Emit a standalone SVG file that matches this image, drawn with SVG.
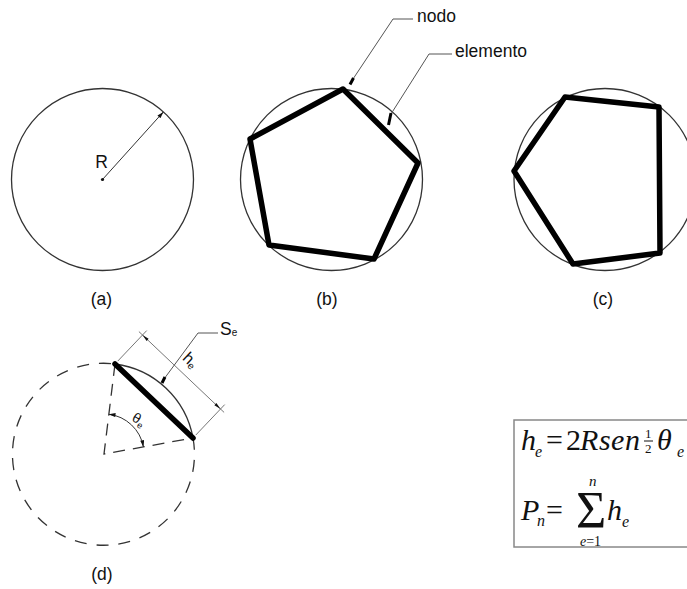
<svg xmlns="http://www.w3.org/2000/svg" width="687" height="589" viewBox="0 0 687 589">
<style>
.circ{fill:none;stroke:#333;stroke-width:1.3}
.poly{fill:none;stroke:#000;stroke-width:5.5;stroke-linejoin:round;stroke-linecap:round}
.lead{fill:none;stroke:#555;stroke-width:1}
.tick{fill:none;stroke:#000;stroke-width:3;stroke-linecap:butt}
.dash{fill:none;stroke:#333;stroke-width:1.3;stroke-dasharray:12 10}
.lbl{font-family:"Liberation Sans",Arial,sans-serif;font-size:17.5px;fill:#111}
.math{font-family:"Liberation Serif","Times New Roman",serif;fill:#111}
.it{font-style:italic}
</style>
<defs>
<marker id="arr" viewBox="0 0 10 6" refX="10" refY="3" markerWidth="8" markerHeight="4" markerUnits="userSpaceOnUse" orient="auto-start-reverse">
<path d="M0,0 L10,3 L0,6 Z" fill="#111"/>
</marker>
</defs>
<rect width="687" height="589" fill="#fff"/>

<g id="fig-a">
<circle class="circ" cx="102.5" cy="179.5" r="91"/>
<line x1="102.5" y1="179.5" x2="163.4" y2="111.9" stroke="#333" stroke-width="1" marker-end="url(#arr)"/>
<circle cx="102.5" cy="179.5" r="1.6" fill="#111"/>
<text class="lbl" x="101.5" y="168" text-anchor="middle">R</text>
<text class="lbl" x="101.5" y="305" text-anchor="middle">(a)</text>
</g>

<g id="fig-b">
<circle class="circ" cx="331.5" cy="179.5" r="91"/>
<polygon class="poly" points="343,89 418,163 374,259 269,245 250,139"/>
<text class="lbl" x="327" y="305" text-anchor="middle">(b)</text>
</g>

<g id="label-nodo">
<text class="lbl" x="417" y="22">nodo</text>
</g>
<g id="label-elemento">
<text class="lbl" x="455" y="57">elemento</text>
</g>

<g id="fig-c">
<circle class="circ" cx="605" cy="179.5" r="91"/>
<polygon class="poly" points="565,97 659,107 660,253 573,264 514,171"/>
<text class="lbl" x="603" y="305" text-anchor="middle">(c)</text>
</g>

<g id="fig-d">
<path class="dash" d="M193,438 A91,91 0 1 1 115,364"/>
<path class="dash" d="M115,364 L104,454 L193,438" style="stroke-dasharray:12 8"/>
<path class="circ" d="M115,364 A91,91 0 0 1 193,438"/>
<line class="poly" x1="115" y1="364" x2="193" y2="438"/>
<path d="M108.85,414.3 A40,40 0 0 1 143.4,446.9" fill="none" stroke="#333" stroke-width="1" marker-start="url(#arr)" marker-end="url(#arr)"/>
<text class="lbl" transform="translate(137,418) rotate(30)"><tspan x="-4" y="5" font-size="14">θ</tspan><tspan font-size="9" dy="3">e</tspan></text>
<line x1="117.75" y1="361.1" x2="146.7" y2="330.6" stroke="#666" stroke-width="0.9"/>
<line x1="195.75" y1="435.1" x2="224.7" y2="404.6" stroke="#666" stroke-width="0.9"/>
<line x1="138.9" y1="331.6" x2="224.1" y2="412.4" stroke="#666" stroke-width="0.9"/>
<polygon points="142.5,335 148.6,338.7 146.6,340.9" fill="#111"/>
<polygon points="220.5,409 216.4,403.1 214.4,405.3" fill="#111"/>
<text class="lbl" transform="translate(187,364) rotate(43.5)" text-anchor="middle"><tspan font-size="16">h</tspan><tspan font-size="10" dy="2">e</tspan></text>
<text class="lbl" x="220" y="335">S<tspan font-size="10" dy="1">e</tspan></text>
<text class="lbl" x="102" y="580" text-anchor="middle">(d)</text>
</g>

<g id="formula">
<rect x="514" y="420" width="190" height="127" fill="none" stroke="#888" stroke-width="1.5"/>
<text class="math it" font-size="30" x="521" y="450">h</text>
<text class="math it" font-size="16" x="535" y="457">e</text>
<text class="math" font-size="30" x="546" y="450">=</text>
<text class="math" font-size="30" x="566" y="450">2</text>
<text class="math it" font-size="30" x="580" y="450" textLength="60" lengthAdjust="spacing">Rsen</text>
<text class="math" font-size="13" x="645" y="438">1</text>
<line x1="644" y1="441" x2="653" y2="441" stroke="#111" stroke-width="1"/>
<text class="math" font-size="13" x="645" y="453">2</text>
<text class="math it" font-size="30" x="657" y="450">θ</text>
<text class="math it" font-size="16" x="677" y="457">e</text>
<text class="math it" font-size="30" x="521" y="520">P</text>
<text class="math it" font-size="16" x="537" y="526">n</text>
<text class="math" font-size="30" x="546" y="520">=</text>
<text class="math" font-size="52" x="576" y="528">Σ</text>
<text class="math it" font-size="15" x="589" y="486">n</text>
<text class="math" font-size="14" x="580" y="546"><tspan class="it">e</tspan>=1</text>
<text class="math it" font-size="30" x="607" y="520">h</text>
<text class="math it" font-size="16" x="622" y="527">e</text>
</g>

<g id="connectors">
<polyline class="lead" points="413,19 393,19 353,79"/>
<line class="tick" x1="353.5" y1="78" x2="350" y2="84.5"/>
<polyline class="lead" points="452,54 429,54 391,114"/>
<line class="tick" x1="391" y1="113" x2="388.5" y2="125"/>
<polyline class="lead" points="218,333 198,333 164,379"/>
<line class="tick" x1="165" y1="377" x2="162" y2="383"/>
</g>
</svg>
